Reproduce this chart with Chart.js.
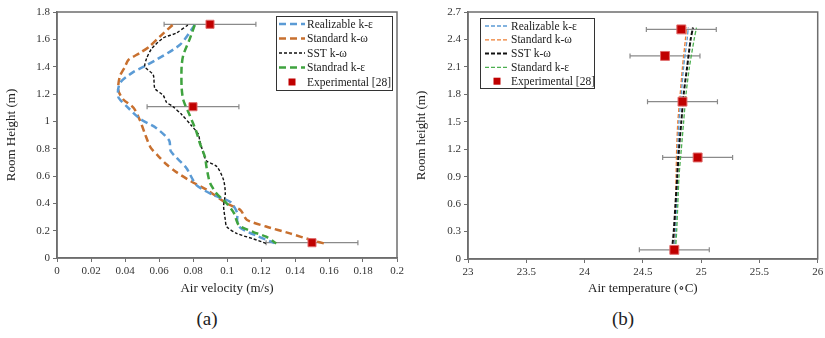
<!DOCTYPE html>
<html>
<head>
<meta charset="utf-8">
<script src="https://cdn.jsdelivr.net/npm/chart.js@4"></script>
<style>
  body { margin: 0; background: #fff; width: 825px; height: 338px; position: relative; overflow: hidden; }
  .box { position: absolute; top: 0; height: 300px; }
  #boxA { left: 0; width: 410px; }
  #boxB { left: 410px; width: 415px; }
  .cap { position: absolute; top: 308px; font: 19px "Liberation Serif", "DejaVu Serif", serif; color: #222; transform: translateX(-50%); }
</style>
</head>
<body>
<div class="box" id="boxA"><canvas id="chartA"></canvas></div>
<div class="box" id="boxB"><canvas id="chartB"></canvas></div>
<div class="cap" style="left:207px">(a)</div>
<div class="cap" style="left:623px">(b)</div>
<script>
// ---- (a) air velocity profiles ----
const rkeH_a = [1.705, 1.56, 1.41, 1.36, 1.28, 1.18, 1.11, 1.02, 0.95, 0.86, 0.78, 0.66, 0.534, 0.46, 0.41, 0.33, 0.27, 0.22, 0.16, 0.11];
const rkeV_a = [0.081, 0.0723, 0.0527, 0.0448, 0.037, 0.036, 0.041, 0.0487, 0.0585, 0.066, 0.067, 0.076, 0.082, 0.092, 0.102, 0.106, 0.106, 0.108, 0.118, 0.128];

const skwH_a = [1.705, 1.62, 1.55, 1.50, 1.45, 1.40, 1.33, 1.23, 1.16, 1.10, 1.01, 0.91, 0.81, 0.74, 0.69, 0.63, 0.56, 0.50, 0.40, 0.35, 0.28, 0.23, 0.18, 0.13, 0.10];
const skwV_a = [0.068, 0.0605, 0.0546, 0.0487, 0.042, 0.040, 0.037, 0.036, 0.039, 0.045, 0.0487, 0.0517, 0.055, 0.060, 0.064, 0.070, 0.079, 0.088, 0.0998, 0.108, 0.1116, 0.123, 0.137, 0.150, 0.159];

const sstH_a = [1.705, 1.645, 1.61, 1.53, 1.46, 1.40, 1.34, 1.24, 1.19, 1.14, 1.11, 1.05, 0.97, 0.91, 0.86, 0.77, 0.71, 0.67, 0.57, 0.47, 0.38, 0.28, 0.23, 0.18, 0.14, 0.107];
const sstV_a = [0.077, 0.070, 0.0625, 0.0556, 0.0527, 0.0517, 0.0566, 0.0576, 0.0625, 0.0644, 0.068, 0.0733, 0.079, 0.083, 0.084, 0.086, 0.088, 0.094, 0.098, 0.099, 0.098, 0.099, 0.0998, 0.1057, 0.1155, 0.123];

const skeH_a = [1.705, 1.60, 1.485, 1.40, 1.25, 1.156, 1.046, 0.924, 0.84, 0.74, 0.66, 0.55, 0.47, 0.40, 0.33, 0.24, 0.19, 0.156, 0.107];
const skeV_a = [0.081, 0.078, 0.0743, 0.0733, 0.0733, 0.0743, 0.078, 0.082, 0.084, 0.087, 0.088, 0.090, 0.094, 0.0998, 0.104, 0.107, 0.1155, 0.123, 0.129];

const expH_a = [1.71, 1.107, 0.112];
const expV_a = [0.090, 0.080, 0.150];
const expErr_a = [0.027, 0.027, 0.027];

// ---- (b) air temperature profiles ----
const heights_b = [0.1, 0.3, 0.6, 0.9, 1.2, 1.5, 1.8, 2.1, 2.4, 2.53];
const rkeT_b = [24.77, 24.78, 24.79, 24.795, 24.80, 24.81, 24.83, 24.85, 24.88, 24.89];
const skwT_b = [24.77, 24.775, 24.78, 24.785, 24.79, 24.80, 24.82, 24.84, 24.865, 24.875];
const sstT_b = [24.75, 24.765, 24.78, 24.795, 24.81, 24.83, 24.85, 24.88, 24.91, 24.93];
const skeT_b = [24.78, 24.79, 24.80, 24.81, 24.83, 24.85, 24.87, 24.90, 24.94, 24.96];

const expH_b = [2.51, 2.22, 1.72, 1.11, 0.10];
const expT_b = [24.83, 24.69, 24.84, 24.97, 24.77];
const expErr_b = [0.3, 0.3, 0.3, 0.3, 0.3];

const FONT = '"Liberation Serif", "DejaVu Serif", serif';

function pts(xs, ys) {
    return xs.map((x, i) => ({ x: x, y: ys[i] }));
}

function fmt(v) {
    return String(Number(v.toFixed(2)));
}

// box round the plot area
const framePlugin = {
    id: 'frame',
    beforeDatasetsDraw(chart) {
        const a = chart.chartArea;
        const ctx = chart.ctx;
        ctx.save();
        ctx.strokeStyle = '#6e6e6e';
        ctx.lineWidth = 1.5;
        ctx.strokeRect(a.left, a.top, a.right - a.left, a.bottom - a.top);
        ctx.restore();
    }
};

// horizontal error bars for the experimental points
const errorBarPlugin = {
    id: 'errBars',
    beforeDatasetsDraw(chart, args, opts) {
        const ds = chart.data.datasets[opts.datasetIndex];
        const xs = chart.scales.x, ys = chart.scales.y;
        const ctx = chart.ctx;
        ctx.save();
        ctx.strokeStyle = '#8a8a8a';
        ctx.lineWidth = 1.2;
        ds.data.forEach((p, i) => {
            const e = opts.err[i];
            const x1 = xs.getPixelForValue(p.x - e);
            const x2 = xs.getPixelForValue(p.x + e);
            const y = ys.getPixelForValue(p.y);
            ctx.beginPath();
            ctx.moveTo(x1, y); ctx.lineTo(x2, y);
            ctx.moveTo(x1, y - 2.5); ctx.lineTo(x1, y + 2.5);
            ctx.moveTo(x2, y - 2.5); ctx.lineTo(x2, y + 2.5);
            ctx.stroke();
        });
        ctx.restore();
    }
};

// legend box drawn inside the plot
const boxLegendPlugin = {
    id: 'boxLegend',
    afterDraw(chart, args, o) {
        const ctx = chart.ctx;
        ctx.save();
        ctx.fillStyle = '#fff';
        ctx.fillRect(o.x, o.y, o.w, o.h);
        ctx.strokeStyle = '#333';
        ctx.lineWidth = 1;
        ctx.strokeRect(o.x + 0.5, o.y + 0.5, o.w, o.h);
        ctx.font = o.fontSize + 'px ' + FONT;
        ctx.textBaseline = 'middle';
        chart.data.datasets.forEach((ds, i) => {
            const y = o.firstRow + i * o.rowStep;
            if (ds.showLine === false) {
                const s = o.markSize;
                const cx = (o.lineX1 + o.lineX2) / 2;
                ctx.fillStyle = ds.backgroundColor;
                ctx.fillRect(cx - s / 2, y - s / 2, s, s);
            } else {
                ctx.strokeStyle = ds.borderColor;
                ctx.lineWidth = ds.borderWidth;
                ctx.setLineDash(ds.borderDash);
                ctx.beginPath();
                ctx.moveTo(o.lineX1, y);
                ctx.lineTo(o.lineX2, y);
                ctx.stroke();
                ctx.setLineDash([]);
            }
            ctx.fillStyle = '#222';
            ctx.fillText(ds.label, o.textX, y + 0.5);
        });
        ctx.restore();
    }
};

function lineSet(label, xs, ys, color, width, dash, order) {
    return {
        label: label,
        data: pts(xs, ys),
        borderColor: color,
        backgroundColor: color,
        borderWidth: width,
        borderDash: dash,
        pointRadius: 0,
        tension: 0.25,
        fill: false,
        order: order
    };
}

function expSet(xs, ys, r) {
    return {
        label: 'Experimental [28]',
        data: pts(xs, ys),
        showLine: false,
        pointStyle: 'rect',
        pointRadius: r,
        pointHoverRadius: r,
        backgroundColor: '#c00000',
        borderColor: '#e06a6a',
        borderWidth: 1,
        order: 0
    };
}

function axis(opts) {
    return {
        type: 'linear',
        min: opts.min,
        max: opts.max,
        border: { display: true, color: '#6e6e6e', width: 1.5 },
        grid: { display: true, drawOnChartArea: false, drawTicks: true, tickLength: 4, color: '#6e6e6e' },
        ticks: {
            stepSize: opts.step,
            autoSkip: false,
            maxRotation: 0,
            padding: 3,
            color: '#333',
            font: { family: FONT, size: 11 },
            callback: v => fmt(v)
        },
        title: {
            display: true,
            text: opts.title,
            color: '#222',
            font: { family: FONT, size: 13 },
            padding: { top: 4, bottom: 4 }
        },
        afterFit(scale) {
            if (opts.width) scale.width = opts.width;
            if (opts.height) scale.height = opts.height;
            scale.paddingLeft = 0;
            scale.paddingRight = 0;
            scale.paddingTop = 0;
            scale.paddingBottom = 0;
        }
    };
}

function baseOptions(pad, xAxis, yAxis, legendBox, err) {
    return {
        responsive: true,
        maintainAspectRatio: false,
        animation: false,
        events: [],
        layout: { padding: pad },
        scales: { x: xAxis, y: yAxis },
        plugins: {
            legend: { display: false },
            tooltip: { enabled: false },
            boxLegend: legendBox,
            errBars: err
        }
    };
}

function createVelocityChart() {
    const ctx = document.getElementById('chartA').getContext('2d');
    new Chart(ctx, {
        type: 'line',
        data: {
            datasets: [
                lineSet('Realizable k-ε', rkeV_a, rkeH_a, '#5b9bd5', 2.5, [7, 4], 3),
                lineSet('Standard k-ω', skwV_a, skwH_a, '#c8702f', 2.5, [7, 4], 4),
                lineSet('SST k-ω', sstV_a, sstH_a, '#111', 1.4, [3, 2], 2),
                lineSet('Standrad k-ε', skeV_a, skeH_a, '#3fa33f', 2.5, [7, 4], 1),
                expSet(expV_a, expH_a, 5.7)
            ]
        },
        options: baseOptions(
            { top: 12, right: 13, left: 0, bottom: 0 },
            axis({ min: 0, max: 0.2, step: 0.02, title: 'Air velocity (m/s)', height: 42 }),
            axis({ min: 0, max: 1.8, step: 0.2, title: 'Room Height (m)', width: 57 }),
            { x: 276, y: 16, w: 116, h: 74, firstRow: 24, rowStep: 14.5, lineX1: 279, lineX2: 305, textX: 307, fontSize: 11.5, markSize: 7 },
            { datasetIndex: 4, err: expErr_a }
        ),
        plugins: [framePlugin, errorBarPlugin, boxLegendPlugin]
    });
}

function createTemperatureChart() {
    const ctx = document.getElementById('chartB').getContext('2d');
    new Chart(ctx, {
        type: 'line',
        data: {
            datasets: [
                lineSet('Realizable k-ε', rkeT_b, heights_b, '#5b9bd5', 1.3, [4, 2], 3),
                lineSet('Standard k-ω', skwT_b, heights_b, '#ed7d31', 1.3, [4, 2], 4),
                lineSet('SST k-ω', sstT_b, heights_b, '#111', 2, [4, 2], 2),
                lineSet('Standard k-ε', skeT_b, heights_b, '#4caf50', 1.3, [4, 2], 1),
                expSet(expT_b, expH_b, 6.3)
            ]
        },
        options: baseOptions(
            { top: 12, right: 4, left: 0, bottom: 0 },
            axis({ min: 23, max: 26, step: 0.5, title: 'Air temperature (∘C)', height: 41 }),
            axis({ min: 0, max: 2.7, step: 0.3, title: 'Room height (m)', width: 58 }),
            { x: 70, y: 18, w: 114, h: 70, firstRow: 26, rowStep: 13.8, lineX1: 75, lineX2: 99, textX: 101, fontSize: 11.5, markSize: 7 },
            { datasetIndex: 4, err: expErr_b }
        ),
        plugins: [framePlugin, errorBarPlugin, boxLegendPlugin]
    });
}

document.addEventListener('DOMContentLoaded', function() {
    createVelocityChart();
    createTemperatureChart();
});
</script>
</body>
</html>
